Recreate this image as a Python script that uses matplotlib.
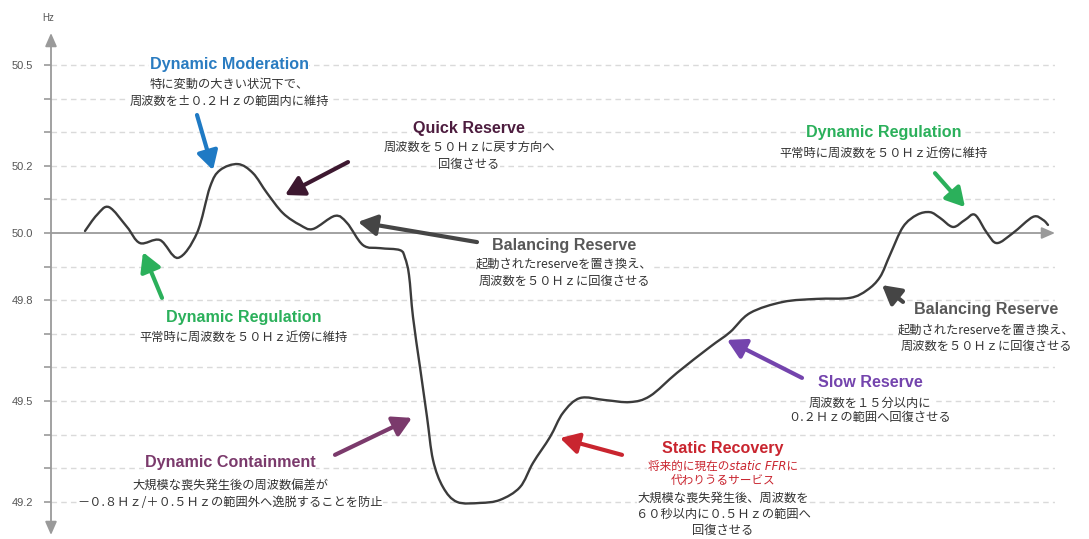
import numpy as np
import matplotlib
matplotlib.use("Agg")
import matplotlib.pyplot as plt
from matplotlib.path import Path
from matplotlib.patches import PathPatch

plt.rcParams['font.family'] = ['Liberation Sans', 'Noto Sans CJK JP']
JP = ['Noto Sans CJK JP', 'DejaVu Sans']
JP_IT = ['DejaVu Sans', 'Noto Sans CJK JP']

# frequency trace (time in arbitrary units, Hz)
t = [0, 12, 24, 42, 55, 75, 93, 112, 125, 135, 153, 168, 182, 198, 215, 228,
     250, 262, 278, 295, 315, 320, 324, 328, 335, 342, 348, 358, 372, 395,
     415, 435, 448, 465, 478, 495, 520, 545, 565, 592, 625, 645, 665, 698,
     732, 765, 782, 795, 805, 818, 832, 845, 855, 868, 880, 890, 902, 912,
     928, 948, 958, 963]
freq = [50.006, 50.054, 50.077, 50.018, 49.970, 49.979, 49.926, 50.000, 50.137,
        50.187, 50.205, 50.178, 50.119, 50.059, 50.024, 50.012, 50.051, 50.030,
        49.964, 49.955, 49.949, 49.926, 49.875, 49.750, 49.601, 49.453, 49.325,
        49.244, 49.200, 49.197, 49.206, 49.244, 49.316, 49.393, 49.465, 49.509,
        49.503, 49.497, 49.515, 49.584, 49.661, 49.705, 49.762, 49.795, 49.804,
        49.807, 49.830, 49.869, 49.935, 50.018, 50.054, 50.062, 50.045, 50.018,
        50.039, 50.054, 50.000, 49.970, 50.000, 50.048, 50.039, 50.024]

grid_levels = [49.2, 49.3, 49.4, 49.5, 49.6, 49.7, 49.8, 49.9, 50.0,
               50.1, 50.2, 50.3, 50.4, 50.5]
tick_labels = {49.2: '49.2', 49.5: '49.5', 49.8: '49.8', 50.0: '50.0',
               50.2: '50.2', 50.5: '50.5'}

AXIS = '#9a9a9a'
BODY = '#333333'


def smooth_path(xs, ys, yscale):
    # Catmull-Rom through the samples, written out as cubic Bezier segments
    p = np.column_stack([xs, np.asarray(ys) * yscale])
    ext = np.vstack([p[0], p, p[-1]])
    verts = [p[0]]
    codes = [Path.MOVETO]
    for i in range(len(p) - 1):
        p0, p1, p2, p3 = ext[i], ext[i + 1], ext[i + 2], ext[i + 3]
        verts += [p1 + (p2 - p0) / 6, p2 - (p3 - p1) / 6, p2]
        codes += [Path.CURVE4] * 3
    verts = np.array(verts)
    verts[:, 1] /= yscale
    return Path(verts, codes)


fig = plt.figure(figsize=(10.89, 5.39), dpi=100)
ax = fig.add_axes([51 / 1089, 4 / 539, 1004 / 1089, 502 / 539])
ax.set_xlim(-34, 970)
ax.set_ylim(49.1016, 50.5950)
for s in ax.spines.values():
    s.set_visible(False)

# dashed grid, solid 50 Hz baseline
for lv in grid_levels:
    if lv != 50.0:
        ax.axhline(lv, color='#dadada', lw=1.0, ls=(0, (4, 3)), zorder=1)

ax.annotate('', xy=(1, 50.0), xytext=(0, 50.0),
            xycoords=('axes fraction', 'data'),
            arrowprops=dict(arrowstyle='-|>,head_length=0.8,head_width=0.35',
                            color=AXIS, lw=1.3, mutation_scale=10,
                            shrinkA=0, shrinkB=0), zorder=2)
ax.annotate('', xy=(0, 1), xytext=(0, 0), xycoords='axes fraction',
            arrowprops=dict(arrowstyle='<|-|>,head_length=0.8,head_width=0.35',
                            color=AXIS, lw=1.3, mutation_scale=10,
                            shrinkA=0, shrinkB=0), annotation_clip=False, zorder=2)

ax.set_xticks([])
ax.set_yticks(grid_levels)
ax.set_yticklabels([tick_labels.get(lv, '') for lv in grid_levels])
ax.tick_params(axis='y', length=5, width=1.2, color=AXIS, labelsize=8,
               labelcolor='#555555', pad=8)
fig.text(48 / 1089, 1 - 18 / 539, 'Hz', ha='center', va='center',
         fontsize=7, color='#555555')

ax.add_patch(PathPatch(smooth_path(t, freq, 336.15), fill=False,
                       edgecolor='#3b3b3b', lw=1.7, capstyle='round', zorder=5))


def arrow(x0, y0, x1, y1, color):
    ax.annotate('', xy=(x1, y1), xytext=(x0, y0),
                arrowprops=dict(arrowstyle='-|>,head_length=0.8,head_width=0.45',
                                color=color, lw=3.0, mutation_scale=14,
                                shrinkA=0, shrinkB=0), zorder=6)


box = dict(facecolor='white', edgecolor='none', pad=0.5)


def block(x, y, title, color, lines, gaps=None, italic=()):
    ax.text(x, y, title, ha='center', va='center', color=color, fontsize=11.6,
            fontweight='bold', bbox=box, zorder=3)
    off = 0
    for k, s in enumerate(lines):
        off += (gaps[k] if gaps else (19 if k == 0 else 17.5)) * 0.72
        if k in italic:
            kw = dict(family=JP_IT, style='italic', fontsize=8.4, color=color)
        else:
            kw = dict(family=JP, fontsize=8.8, color=BODY)
        ax.annotate(s, (x, y), xytext=(0, -off), textcoords='offset points',
                    ha='center', va='center', bbox=box, zorder=3, **kw)


block(144, 50.500, 'Dynamic Moderation', '#2a7cc1',
      ['特に変動の大きい状況下で、', '周波数を±０.２Ｈｚの範囲内に維持'])
arrow(112, 50.351, 128, 50.187, '#1f7ac4')

block(384, 50.312, 'Quick Reserve', '#4d1d3f',
      ['周波数を５０Ｈｚに戻す方向へ', '回復させる'])
arrow(263, 50.211, 200, 50.113, '#3d1830')

block(479, 49.964, 'Balancing Reserve', '#585858',
      ['起動されたreserveを置き換え、', '周波数を５０Ｈｚに回復させる'])
arrow(392, 49.973, 273, 50.033, '#454545')

block(799, 50.300, 'Dynamic Regulation', '#2bb05b',
      ['平常時に周波数を５０Ｈｚ近傍に維持'], gaps=[21])
arrow(850, 50.178, 880, 50.077, '#2bb05b')

block(901, 49.771, 'Balancing Reserve', '#585858',
      ['起動されたreserveを置き換え、', '周波数を５０Ｈｚに回復させる'], gaps=[20, 16])
arrow(818, 49.795, 797, 49.845, '#454545')

block(785, 49.554, 'Slow Reserve', '#7444ad',
      ['周波数を１５分以内に', '０.２Ｈｚの範囲へ回復させる'], gaps=[20, 15])
arrow(717, 49.569, 642, 49.682, '#7444ad')

block(638, 49.358, 'Static Recovery', '#c9252f',
      ['将来的に現在のstatic FFRに', '代わりうるサービス',
       '大規模な喪失発生後、周波数を', '６０秒以内に０.５Ｈｚの範囲へ', '回復させる'],
      gaps=[18, 14, 17, 17, 16], italic=(0, 1))
arrow(537, 49.340, 475, 49.390, '#c9252f')

block(159, 49.750, 'Dynamic Regulation', '#2bb05b',
      ['平常時に周波数を５０Ｈｚ近傍に維持'], gaps=[20])
arrow(77, 49.807, 58, 49.943, '#2bb05b')

block(145, 49.316, 'Dynamic Containment', '#7b3a6c',
      ['大規模な喪失発生後の周波数偏差が', '－０.８Ｈｚ/＋０.５Ｈｚの範囲外へ逸脱することを防止'],
      gaps=[23, 17])
arrow(250, 49.340, 327, 49.450, '#7b3a6c')

fig.savefig('out.png', dpi=100)
